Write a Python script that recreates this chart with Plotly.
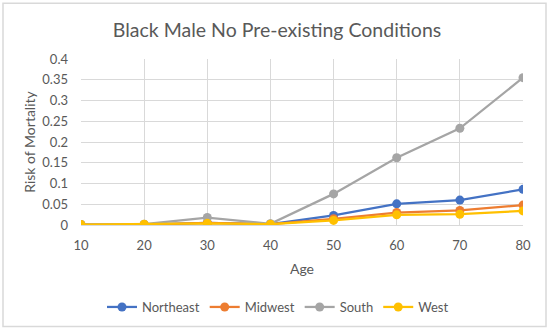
import plotly.graph_objects as go

ages = [10, 20, 30, 40, 50, 60, 70, 80]
northeast = [0.001, 0.001, 0.005, 0.002, 0.023, 0.051, 0.060, 0.086]
midwest = [0.001, 0.001, 0.005, 0.002, 0.015, 0.030, 0.035, 0.048]
south = [0.001, 0.002, 0.018, 0.003, 0.075, 0.162, 0.233, 0.355]
west = [0.001, 0.002, 0.004, 0.002, 0.011, 0.0245, 0.026, 0.034]
y_ticks = [0, 0.05, 0.1, 0.15, 0.2, 0.25, 0.3, 0.35, 0.4]
y_labels = ["0", "0.05", "0.1", "0.15", "0.2", "0.25", "0.3", "0.35", "0.4"]

series = [("Northeast", northeast, "#4472C4"), ("Midwest", midwest, "#ED7D31"),
          ("South", south, "#A5A5A5"), ("West", west, "#FFC000")]

W, H = 550, 332
L, R, T, B = 81, 27, 59, 106
pw, ph = W - L - R, H - T - B

def px(x):
    return (x - L) / pw

def py(y):
    return (H - B - y) / ph

FONT = "Lato"
TXT = "#595959"

fig = go.Figure()
for name, vals, col in series:
    fig.add_trace(go.Scatter(x=ages, y=vals, name=name, mode="lines+markers",
                             line=dict(color=col, width=2.25),
                             marker=dict(color=col, size=9)))

fig.update_layout(
    width=W, height=H,
    margin=dict(l=L, r=R, t=T, b=B),
    paper_bgcolor="white", plot_bgcolor="white",
    font=dict(family=FONT, color=TXT, size=12),
    title=dict(text="Black Male No Pre-existing Conditions", x=277 / W, xanchor="center",
               y=1 - 30 / H, yanchor="middle", font=dict(size=19.5, color=TXT, family=FONT)),
    xaxis=dict(range=[10, 80], tickmode="array", tickvals=ages, ticktext=[str(a) for a in ages],
               showgrid=True, gridcolor="#D9D9D9", gridwidth=1, zeroline=False,
               showline=True, linecolor="#D9D9D9", ticks="", ticklabelstandoff=8,
               tickfont=dict(size=13, color=TXT),
               title=dict(text="Age", font=dict(size=14, color=TXT), standoff=12)),
    yaxis=dict(range=[0, 0.4], tickmode="array", tickvals=y_ticks, ticktext=y_labels,
               showgrid=True, gridcolor="#D9D9D9", gridwidth=1, zeroline=False,
               showline=False, ticks="", ticklabelstandoff=12,
               tickfont=dict(size=13, color=TXT),
               title=dict(text="Risk of Mortality", font=dict(size=14, color=TXT), standoff=3)),
    legend=dict(orientation="h", x=px(278), xanchor="center", y=py(307), yanchor="middle",
                font=dict(size=13, color=TXT), itemwidth=30, tracegroupgap=0),
    shapes=[dict(type="rect", xref="paper", yref="paper",
                 x0=px(3), x1=px(546), y0=py(328), y1=py(3),
                 line=dict(color="#D9D9D9", width=1.5), fillcolor="rgba(0,0,0,0)", layer="below")],
)

fig.write_html("out.html", config={"displayModeBar": False},
               post_script="document.body.style.margin='0';document.body.style.overflow='hidden';")
